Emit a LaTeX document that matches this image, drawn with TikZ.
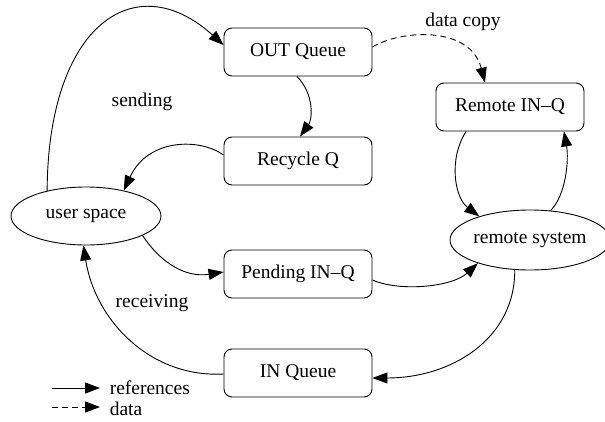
\documentclass[tikz,border=0pt]{standalone}
\usepackage{fontspec}
\setmainfont{Liberation Serif}
\usepackage{tikz}
\usetikzlibrary{arrows.meta}
\usetikzlibrary{shapes.geometric}

\begin{document}
\begin{tikzpicture}[x=1pt, y=-1pt,
        font=\fontsize{19.5}{23}\selectfont,
        queue/.style={draw, line width=0.9pt, rounded corners=8pt, minimum width=148pt, minimum height=48pt, inner sep=0pt},
        side/.style={draw, line width=0.9pt, ellipse, inner sep=0pt},
        ref/.style={line width=0.9pt, -{Triangle[length=15pt, width=11pt]}},
        copy/.style={ref, dash pattern=on 6pt off 4pt}]
            \useasboundingbox (0,0) rectangle (605,421);

            \node[queue] (outq) at (298,52) {OUT Queue};
            \node[queue] (recq) at (298,161) {Recycle Q};
            \node[queue] (pendq) at (298,274) {Pending IN--Q};
            \node[queue] (inq) at (298,373) {IN Queue};
            \node[queue] (remq) at (510,107) {Remote IN--Q};
            \node[side, minimum width=150pt, minimum height=58pt] (user) at (86,216) {user space};
            \node[side, minimum width=148pt, minimum height=60pt] (remote) at (530,240) {remote system};

            \node (sending) at (142,102) {sending};
            \node (receiving) at (152,303) {receiving};
            \node (datacopy) at (463,22) {data copy};

            \draw[ref] (user.147) .. controls (48,25) and (135,-35) .. ([yshift=7pt]outq.west);
            \draw[ref] ([xshift=-1pt]outq.south) .. controls (315,95) and (312,120) .. ([xshift=2pt]recq.north);
            \draw[ref] ([yshift=6pt]recq.west) .. controls (200,138) and (148,138) .. (user.34);
            \draw[ref] (user.-19) .. controls (160,262) and (185,278) .. ([yshift=2pt]pendq.west);
            \draw[ref] ([yshift=-6pt]pendq.east) .. controls (400,292) and (452,287) .. (remote.204);
            \draw[ref] (remote.243) .. controls (515,340) and (450,378) .. ([yshift=-5pt]inq.east);
            \draw[ref] ([xshift=-44pt]remq.south) .. controls (448,160) and (455,198) .. (remote.155);
            \draw[ref] (remote.55) .. controls (566,195) and (569,160) .. ([xshift=54pt]remq.south);
            \draw[ref] ([yshift=-1pt]inq.west) .. controls (150,378) and (95,320) .. (user.265);
            \draw[copy] ([yshift=5pt]outq.east) .. controls (400,30) and (470,25) .. ([xshift=-25pt]remq.north);

            \coordinate (refa) at (52,388);
            \coordinate (refb) at (100,388);
            \coordinate (data) at (52,407);
            \coordinate (datb) at (100,407);
            \draw[ref] (refa) -- (refb) node[right=6pt] {references};
            \draw[copy] (data) -- (datb) node[right=6pt, yshift=-2pt] {data};
        \end{tikzpicture}
\end{document}
